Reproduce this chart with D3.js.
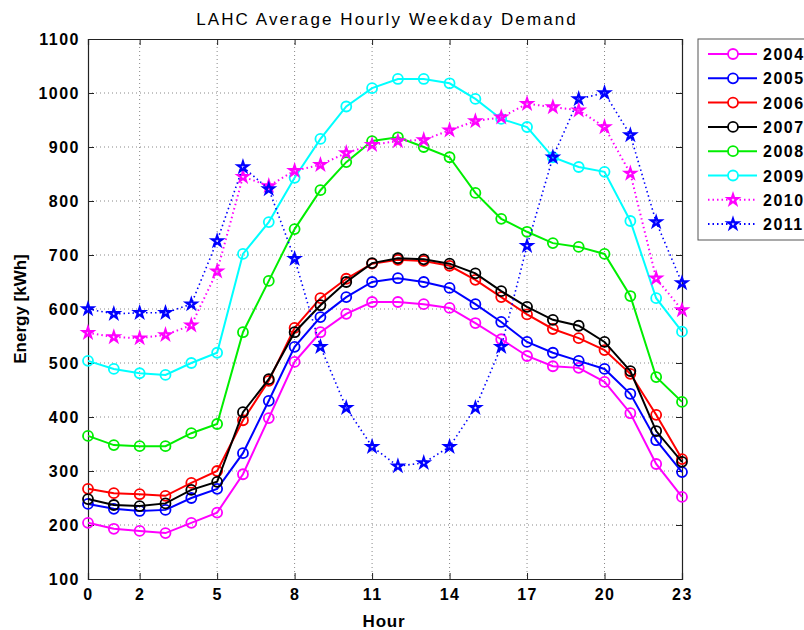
<!DOCTYPE html>
<html><head><meta charset="utf-8">
<script src="https://cdn.jsdelivr.net/npm/d3@7"></script>
<style>body{margin:0;background:#fff}svg{display:block}</style>
</head><body>
<svg id="chart" width="804" height="630"></svg>
<script>
const hours = d3.range(0, 24);
const xTicks = [0, 2, 5, 8, 11, 14, 17, 20, 23];
const yTicks = [100, 200, 300, 400, 500, 600, 700, 800, 900, 1000, 1100];
const seriesNames = ["2004", "2005", "2006", "2007", "2008", "2009", "2010", "2011"];
const y2004 = [204, 193, 189, 185, 204, 223, 294, 398, 502, 557, 591, 613, 613, 609, 602, 574, 544, 513, 494, 491, 465, 407, 313, 252];
const y2005 = [239, 230, 226, 228, 250, 267, 333, 430, 530, 585, 622, 650, 657, 650, 639, 609, 576, 539, 519, 504, 489, 443, 357, 298];
const y2006 = [267, 259, 257, 254, 278, 300, 394, 467, 565, 620, 656, 684, 691, 689, 680, 654, 622, 590, 563, 546, 524, 480, 404, 322];
const y2007 = [248, 237, 235, 240, 265, 280, 409, 470, 557, 607, 650, 685, 694, 692, 684, 666, 633, 604, 580, 569, 539, 485, 374, 317];
const y2008 = [365, 348, 346, 346, 370, 387, 557, 652, 748, 820, 872, 911, 918, 900, 881, 815, 767, 743, 722, 715, 702, 624, 474, 428];
const y2009 = [504, 489, 481, 478, 500, 519, 702, 761, 843, 915, 975, 1009, 1026, 1026, 1018, 989, 952, 937, 881, 863, 854, 763, 620, 558];
const y2010 = [556, 548, 546, 552, 570, 670, 845, 828, 856, 867, 889, 904, 911, 913, 931, 948, 955, 980, 974, 968, 937, 851, 657, 598];
const y2011 = [600, 591, 593, 593, 609, 726, 863, 822, 693, 530, 417, 345, 309, 315, 345, 417, 530, 717, 881, 989, 1000, 922, 761, 648];
const seriesValues = [y2004, y2005, y2006, y2007, y2008, y2009, y2010, y2011];
const colors = ["#ff00ff", "#0000ff", "#ff0000", "#000000", "#00ee00", "#00ffff", "#ff00ff", "#0000ff"];
const markers = ["circle", "circle", "circle", "circle", "circle", "circle", "star", "star"];
const dashed = [false, false, false, false, false, false, true, true];

const svg = d3.select("#chart");
const L = 88, R = 682, T = 39, B = 579;
const x = d3.scaleLinear().domain([0, 23]).range([L, R]);
const y = d3.scaleLinear().domain([100, 1100]).range([B, T]);
const font = "Liberation Sans, Arial, Helvetica, sans-serif";

// grid
const g = svg.append("g");
g.selectAll(".vg").data(xTicks.slice(1, -1)).join("line")
  .attr("x1", d => x(d)).attr("x2", d => x(d)).attr("y1", T).attr("y2", B)
  .attr("stroke", "#888").attr("stroke-width", 1).attr("stroke-dasharray", "1,3");
g.selectAll(".hg").data(yTicks.slice(1, -1)).join("line")
  .attr("y1", d => y(d)).attr("y2", d => y(d)).attr("x1", L).attr("x2", R)
  .attr("stroke", "#888").attr("stroke-width", 1).attr("stroke-dasharray", "1,3");

// axes
const xAxis = d3.axisBottom(x).tickValues(xTicks).tickSize(-6).tickPadding(10).tickFormat(d3.format("d"));
const yAxis = d3.axisLeft(y).tickValues(yTicks).tickSize(-6).tickPadding(8).tickFormat(d3.format("d"));
const xa = svg.append("g").attr("transform", `translate(0,${B})`).call(xAxis);
const ya = svg.append("g").attr("transform", `translate(${L},0)`).call(yAxis);
const xTop = svg.append("g").attr("transform", `translate(0,${T})`).call(d3.axisTop(x).tickValues(xTicks).tickSize(-6).tickFormat(""));
const yRight = svg.append("g").attr("transform", `translate(${R},0)`).call(d3.axisRight(y).tickValues(yTicks).tickSize(-6).tickFormat(""));
[xa, ya, xTop, yRight].forEach(a => {
  a.select(".domain").attr("stroke", "#222").attr("stroke-width", 1.2);
  a.selectAll(".tick line").attr("stroke", "#222");
  a.selectAll("text").attr("font-family", font).attr("font-size", 16).attr("font-weight", "bold")
    .attr("letter-spacing", 1.5).attr("fill", "#000");
});

// series
const line = d3.line().x((d, i) => x(hours[i])).y(d => y(d));
const star = d3.symbol().type(d3.symbolStar).size(32);
seriesValues.forEach((vals, si) => {
  const sg = svg.append("g");
  sg.append("path").datum(vals).attr("d", line).attr("fill", "none")
    .attr("stroke", colors[si]).attr("stroke-width", si === 7 ? 1.6 : 2)
    .attr("stroke-dasharray", dashed[si] ? "1.5,3" : null);
  if (markers[si] === "circle") {
    sg.selectAll("circle").data(vals).join("circle")
      .attr("cx", (d, i) => x(hours[i])).attr("cy", d => y(d)).attr("r", 5)
      .attr("fill", "none").attr("stroke", colors[si]).attr("stroke-width", 1.8);
  } else {
    sg.selectAll("path.m").data(vals).join("path").attr("class", "m")
      .attr("d", star).attr("transform", (d, i) => `translate(${x(hours[i])},${y(d)})`)
      .attr("fill", "none").attr("stroke", colors[si]).attr("stroke-width", 2.2);
  }
});

// title & labels
svg.append("text").attr("x", 387).attr("y", 25).attr("text-anchor", "middle")
  .attr("font-family", font).attr("font-size", 17).attr("letter-spacing", 2.1).attr("fill", "#000")
  .text("LAHC Average Hourly Weekday Demand");
svg.append("text").attr("x", 384).attr("y", 627).attr("text-anchor", "middle")
  .attr("font-family", font).attr("font-size", 17).attr("font-weight", "bold").attr("letter-spacing", 0.8).text("Hour");
svg.append("text").attr("transform", "translate(26,309) rotate(-90)").attr("text-anchor", "middle")
  .attr("font-family", font).attr("font-size", 17).attr("font-weight", "bold").text("Energy [kWh]");

// legend
const lg = svg.append("g");
lg.append("rect").attr("x", 698).attr("y", 39).attr("width", 120).attr("height", 201)
  .attr("fill", "#fff").attr("stroke", "#555").attr("stroke-width", 1);
seriesNames.forEach((name, i) => {
  const yy = 54 + i * 24.3;
  lg.append("line").attr("x1", 708).attr("x2", 757).attr("y1", yy).attr("y2", yy)
    .attr("stroke", colors[i]).attr("stroke-width", 2).attr("stroke-dasharray", dashed[i] ? "1.5,3" : null);
  if (markers[i] === "circle") {
    lg.append("circle").attr("cx", 733).attr("cy", yy).attr("r", 5).attr("fill", "#fff")
      .attr("stroke", colors[i]).attr("stroke-width", 1.8);
  } else {
    lg.append("path").attr("d", star).attr("transform", `translate(733,${yy})`).attr("fill", "#fff")
      .attr("stroke", colors[i]).attr("stroke-width", 2.2);
  }
  lg.append("text").attr("x", 763).attr("y", yy + 6).attr("font-family", font).attr("font-size", 16)
    .attr("font-weight", "bold").attr("letter-spacing", 1.5).text(name);
});
</script>
</body></html>
